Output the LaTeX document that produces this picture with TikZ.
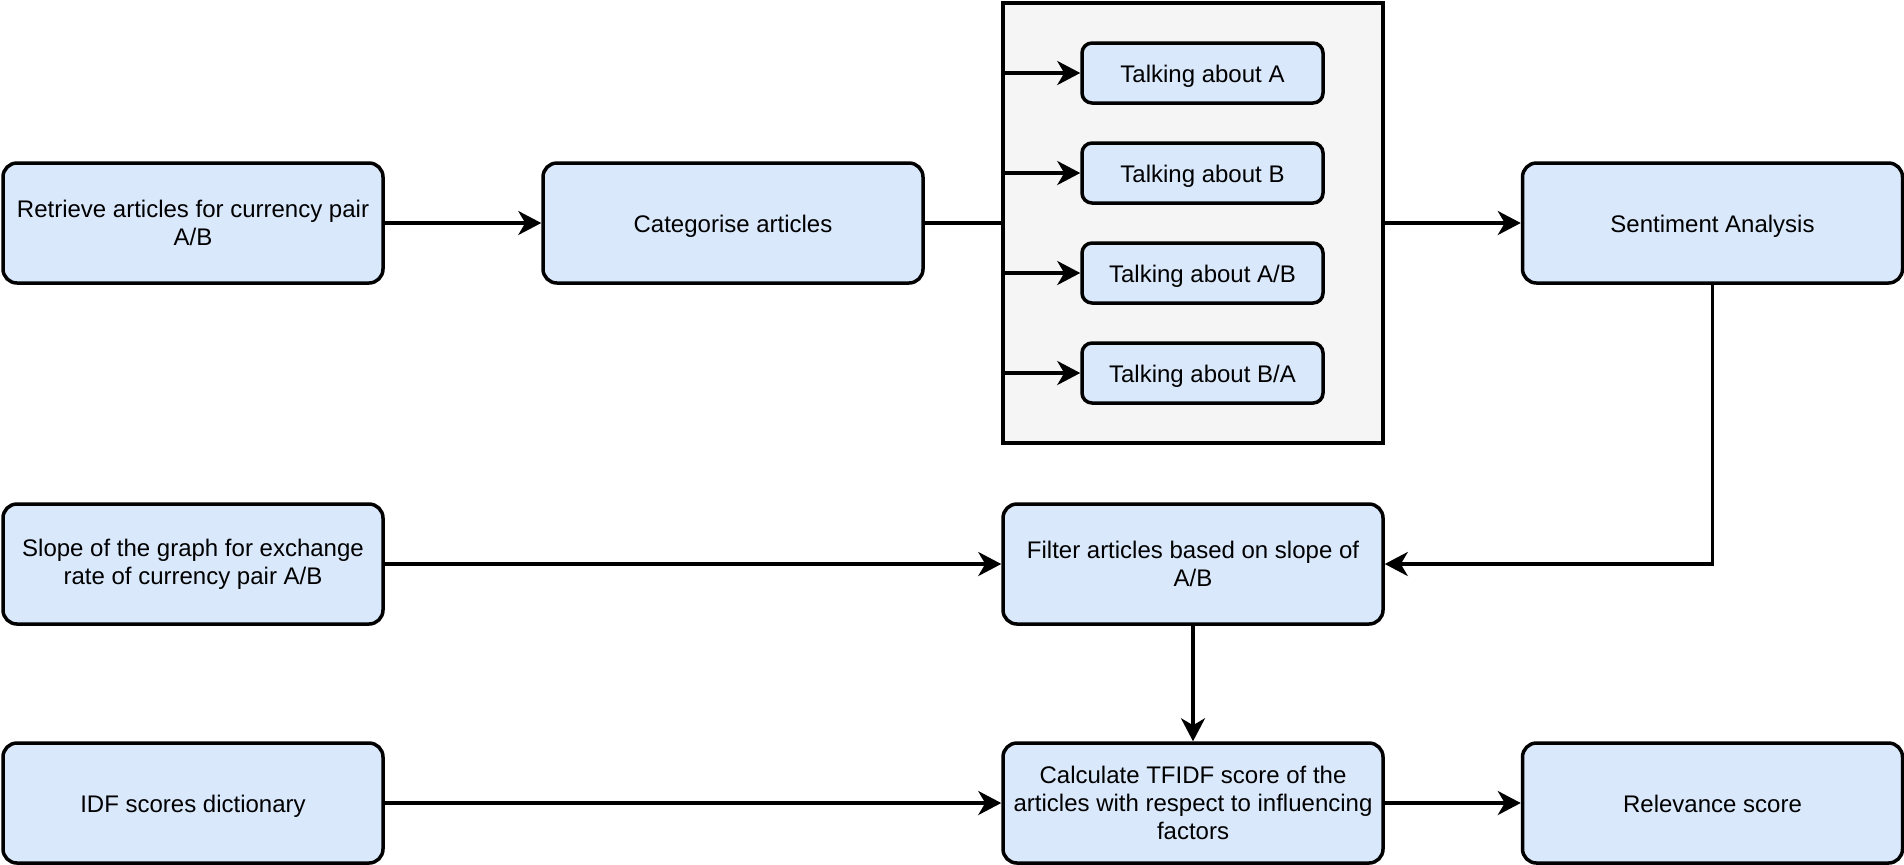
\documentclass[tikz,border=0pt]{standalone}
\usepackage{fontspec}
\setmainfont{Liberation Sans}
\usetikzlibrary{arrows.meta}
\definecolor{boxblue}{HTML}{DAE8FC}
\definecolor{grpgray}{HTML}{F5F5F5}
\begin{document}
\begin{tikzpicture}[x=0.5pt,y=-0.5pt,
  box/.style={draw,line width=1.75pt,fill=boxblue,rounded corners=7pt,minimum width=190pt,minimum height=60pt,inner sep=0pt,align=center,font=\fontsize{12}{14}\selectfont},
  oneline/.style={text height=10.5pt,text depth=1.5pt},
  smallbox/.style={box,oneline,minimum width=120.5pt,minimum height=30pt,rounded corners=5pt},
  grpbox/.style={draw,line width=1.75pt,fill=grpgray,minimum width=190pt,minimum height=220pt,inner sep=0pt},
  conn/.style={line width=1.75pt},
  arr/.style={conn,-{Stealth[length=11.5pt,width=12pt,inset=3.5pt]}}]
\useasboundingbox (0,0) rectangle (1904,864);

\node[box] (retrieve) at (193,223) {Retrieve articles for currency pair\\A/B};
\node[box,oneline] (categorise) at (733,223) {Categorise articles};
\node[grpbox] (grp) at (1193,223) {};
\node[smallbox] (tA) at (1202.5,73) {Talking about A};
\node[smallbox] (tB) at (1202.5,173) {Talking about B};
\node[smallbox] (tAB) at (1202.5,273) {Talking about A/B};
\node[smallbox] (tBA) at (1202.5,373) {Talking about B/A};
\node[box,oneline] (sent) at (1712.5,223) {Sentiment Analysis};
\node[box] (slope) at (193,564) {Slope of the graph for exchange\\rate of currency pair A/B};
\node[box] (filter) at (1193,564) {Filter articles based on slope of\\A/B};
\node[box,oneline] (idf) at (193,803) {IDF scores dictionary};
\node[box] (calc) at (1193,803) {Calculate TFIDF score of the\\articles with respect to influencing\\factors};
\node[box,oneline] (rel) at (1712.5,803) {Relevance score};

\draw[arr] (retrieve) -- (categorise);
\draw[conn] (categorise) -- (grp.west |- categorise);
\draw[arr] (grp.west |- tA.west) -- (tA.west);
\draw[arr] (grp.west |- tB.west) -- (tB.west);
\draw[arr] (grp.west |- tAB.west) -- (tAB.west);
\draw[arr] (grp.west |- tBA.west) -- (tBA.west);
\draw[arr] (grp.east |- sent.west) -- (sent.west);
\draw[arr] (sent.south) |- (filter.east);
\draw[arr] (slope) -- (filter);
\draw[arr] (filter) -- (calc);
\draw[arr] (idf) -- (calc);
\draw[arr] (calc) -- (rel);
\end{tikzpicture}
\end{document}
